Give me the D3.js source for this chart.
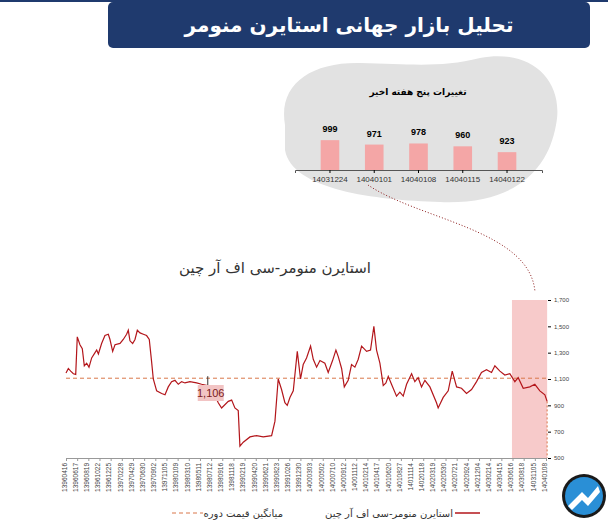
<!DOCTYPE html>
<html><head><meta charset="utf-8">
<script src="https://cdn.jsdelivr.net/npm/d3@7"></script>
<style>body{margin:0;background:#fff}</style>
</head><body>
<svg id="chart" width="608" height="528"></svg>
<script>
// data
var weekLabels = ["14031224", "14040101", "14040108", "14040115", "14040122"]
var weekValues = [999, 971, 978, 960, 923]

var dateLabels = ["13960416","13960617","13960819","13961022","13961225","13970228","13970429","13970630","13970902","13971105","13980109","13980310","13980511","13980712","13980916","13981118","13990219","13990420","13990621","13990823","13991026","13991230","14000303","14000502","14000710","14000912","14001112","14010214","14010417","14010620","14010827","14011114","14020118","14020319","14020530","14020721","14020924","14021204","14030214","14030415","14030616","14030818","14031105","14040108"]
// position along the date axis (label index units) and price
var pricePos = [0,.21,.42,.66,.87,1.01,1.25,1.46,1.64,1.85,2.06,2.30,2.60,2.75,2.90,3.19,3.49,3.79,3.94,4.18,4.39,4.84,5.13,5.43,5.58,5.73,5.97,6.18,6.39,6.63,6.93,7.22,7.46,7.67,7.82,8.12,8.57,8.87,9.16,9.46,9.76,10.06,10.36,10.66,11.10,11.70,12.15,12.66,13.19,13.64,13.94,14.54,14.84,15.13,15.43,15.58,15.88,16.48,17.07,17.67,18.42,18.72,19.01,19.31,19.61,19.82,20.06,20.36,20.72,21.01,21.25,21.55,21.91,22.15,22.45,22.75,23.19,23.49,23.88,24.18,24.39,24.69,24.93,25.28,25.58,25.88,26.18,26.48,26.93,27.28,27.58,27.82,28.12,28.42,28.66,28.87,29.16,29.61,29.91,30.21,30.51,30.96,31.25,31.55,31.85,32.15,32.60,33.19,33.34,33.79,34.24,34.60,34.99,35.43,35.88,36.33,36.78,37.22,37.67,38.12,38.42,38.87,39.31,39.76,40.21,40.51,40.96,41.55,42.00,42.45,42.90,43.10]
var priceVal = [1145,1180,1160,1140,1135,1420,1360,1330,1200,1220,1190,1260,1300,1320,1290,1370,1430,1440,1400,1310,1360,1370,1400,1440,1470,1390,1370,1400,1470,1450,1440,1430,1400,1230,1100,1010,990,980,1040,1080,1090,1060,1080,1070,1080,1070,1060,1050,1000,920,880,930,940,880,860,590,620,660,670,660,670,780,1100,1020,920,900,960,1010,1310,1100,1210,1260,1350,1250,1190,1240,1220,1150,1240,1320,1270,1180,1040,1090,1210,1190,1250,1350,1310,1320,1500,1320,1220,1050,1070,1120,1060,970,1000,970,1060,1140,1080,1110,1040,1090,1040,920,880,960,1010,1160,1040,1030,990,1020,1080,1150,1170,1150,1200,1160,1130,1140,1080,1110,1030,1040,1060,1010,980,930]
var avgPrice = 1106
var yTicks = [500, 700, 900, 1100, 1300, 1500, 1700]
var shadeRange = [39.95, 43.1]

var svg = d3.select("#chart")
var font = "'DejaVu Sans', sans-serif"
var narrow = "'Liberation Sans Narrow', sans-serif"

// header
svg.append("rect").attr("x", 0).attr("y", 0).attr("width", 608).attr("height", 2).attr("fill", "#1f3a6e")
svg.append("rect").attr("x", 108).attr("y", 2).attr("width", 482).attr("height", 46).attr("rx", 5)
  .attr("fill", "#1f3a6e")
svg.append("text").attr("x", 349).attr("y", 32).attr("text-anchor", "middle")
  .style("font-family", font).style("font-size", "20px").style("font-weight", "bold").style("fill", "#fff")
  .text("تحلیل بازار جهانی استایرن منومر")

// inset blob
svg.append("path")
  .attr("d", "M285,125 C278,85 310,62 360,63 C410,64 440,68 480,58 C530,48 565,80 556,125 C548,170 515,205 440,202 C375,200 292,190 285,150 Z")
  .attr("fill", "#e2e2e2")
svg.append("text").attr("x", 418).attr("y", 95).attr("text-anchor", "middle")
  .style("font-family", font).style("font-size", "9px").style("font-weight", "bold").text("تغییرات پنج هفته اخیر")

var bx = d3.scaleBand().domain(weekLabels).range([295, 542]).padding(0.58)
var by = d3.scaleLinear().domain([810, 1000]).range([170, 140])
svg.selectAll("rect.wk").data(weekValues).enter().append("rect").attr("class", "wk")
  .attr("x", function (d, i) { return bx(weekLabels[i]) })
  .attr("y", function (d) { return by(d) })
  .attr("width", bx.bandwidth())
  .attr("height", function (d) { return 170 - by(d) })
  .attr("fill", "#f4a6a6")
svg.selectAll("text.wkv").data(weekValues).enter().append("text").attr("class", "wkv")
  .attr("x", function (d, i) { return bx(weekLabels[i]) + bx.bandwidth() / 2 })
  .attr("y", function (d) { return by(d) - 8 })
  .attr("text-anchor", "middle").style("font-family", narrow)
  .style("font-size", "9px").style("font-weight", "bold").text(function (d) { return d })
svg.append("g").attr("transform", "translate(0,170)")
  .call(d3.axisBottom(bx).tickSize(3))
  .call(function (g) {
    g.select(".domain").attr("stroke", "#555")
    g.selectAll("text").style("font-family", narrow).style("font-size", "8px").attr("fill", "#333")
  })

// connector
svg.append("path").attr("d", "M368,185 C420,220 530,230 535,292")
  .attr("fill", "none").attr("stroke", "#8b1a1a").attr("stroke-dasharray", "1,2").attr("stroke-width", 1)

// main chart
svg.append("text").attr("x", 275).attr("y", 273).attr("text-anchor", "middle")
  .style("font-family", font).style("font-size", "15px").style("fill", "#333")
  .text("استایرن منومر-سی اف آر چین")

var x = d3.scaleLinear().domain([0, 43]).range([66, 546])
var y = d3.scaleLinear().domain([500, 1700]).range([458, 300])

svg.append("rect").attr("x", x(shadeRange[0])).attr("y", y(1700))
  .attr("width", x(shadeRange[1]) - x(shadeRange[0])).attr("height", y(500) - y(1700))
  .attr("fill", "#f4b8b8").attr("opacity", 0.75)

svg.append("line").attr("x1", x(0)).attr("x2", x(shadeRange[1]))
  .attr("y1", y(avgPrice)).attr("y2", y(avgPrice))
  .attr("stroke", "#d9774a").attr("stroke-dasharray", "4,3")

var line = d3.line()
  .x(function (d, i) { return x(pricePos[i]) })
  .y(function (d) { return y(d) })
svg.append("path").attr("d", line(priceVal)).attr("fill", "none")
  .attr("stroke", "#b3161b").attr("stroke-width", 1.2)

svg.append("line").attr("x1", x(shadeRange[1])).attr("x2", x(shadeRange[1]))
  .attr("y1", y(priceVal[priceVal.length - 1])).attr("y2", y(500))
  .attr("stroke", "#d9774a").attr("stroke-dasharray", "2,2")

// average label
svg.append("line").attr("x1", x(12.7)).attr("x2", x(12.7)).attr("y1", y(avgPrice) - 2).attr("y2", y(avgPrice) + 10)
  .attr("stroke", "#333")
svg.append("rect").attr("x", x(11.8)).attr("y", 385).attr("width", 26).attr("height", 16).attr("fill", "#f2c4c4")
svg.append("text").attr("x", x(11.8) + 13).attr("y", 397).attr("text-anchor", "middle")
  .style("font-family", narrow).style("font-size", "11px").style("fill", "#7a1a1a")
  .text(d3.format(",")(avgPrice))

// axes
svg.append("g").attr("transform", "translate(548,0)")
  .call(d3.axisRight(y).tickValues(yTicks).tickSize(3).tickFormat(d3.format(",")))
  .call(function (g) {
    g.select(".domain").remove()
    g.selectAll("text").style("font-family", narrow).style("font-size", "6px").attr("fill", "#444")
  })
svg.append("g").attr("transform", "translate(0,458)")
  .call(d3.axisBottom(x).tickValues(d3.range(dateLabels.length)).tickSize(3)
    .tickFormat(function (d) { return dateLabels[d] }))
  .call(function (g) {
    g.select(".domain").attr("stroke", "#999")
    g.selectAll("line").attr("stroke", "#999")
    g.selectAll("text").style("font-family", narrow).style("font-size", "6.5px")
      .attr("fill", "#444").attr("transform", "rotate(-90)").attr("text-anchor", "end")
      .attr("x", -5).attr("y", -2).attr("dy", "0.35em")
  })

// legend
svg.append("line").attr("x1", 172).attr("x2", 203).attr("y1", 513).attr("y2", 513)
  .attr("stroke", "#d9774a").attr("stroke-dasharray", "4,3")
svg.append("text").attr("x", 283).attr("y", 517).attr("text-anchor", "end")
  .style("font-family", font).style("font-size", "10px").style("fill", "#333").text("میانگین قیمت دوره")
svg.append("line").attr("x1", 455).attr("x2", 480).attr("y1", 513).attr("y2", 513)
  .attr("stroke", "#b3161b").attr("stroke-width", 1.5)
svg.append("text").attr("x", 453).attr("y", 517).attr("text-anchor", "end")
  .style("font-family", font).style("font-size", "10px").style("fill", "#333").text("استایرن منومر-سی اف آر چین")

// logo
var logo = svg.append("g").attr("transform", "translate(584,496)")
logo.append("circle").attr("r", 22).attr("fill", "#1a1a1a")
logo.append("circle").attr("r", 19).attr("fill", "#2a8fd6")
logo.append("path").attr("d", "M-16,10 L-2,-4 L4,2 L14,-10 L16,-4 L4,10 L-2,4 L-12,14 Z").attr("fill", "#fff")
</script>
</body></html>
